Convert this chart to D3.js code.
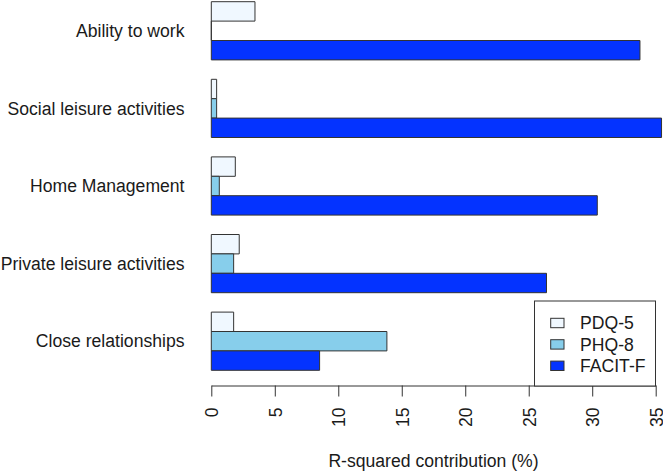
<!DOCTYPE html>
<html>
<head>
<meta charset="utf-8">
<script src="https://cdn.jsdelivr.net/npm/d3@7"></script>
<style>
  html, body { margin: 0; padding: 0; background: #fff; }
  svg { display: block; font-family: "Liberation Sans", Arial, sans-serif; }
</style>
</head>
<body>
<svg id="chart" width="663" height="472"></svg>
<script>
const categories = ["Ability to work", "Social leisure activities", "Home Management", "Private leisure activities", "Close relationships"];
const seriesNames = ["PDQ-5", "PHQ-8", "FACIT-F"];
const pdq5 = [3.44, 0.42, 1.89, 2.2, 1.76];
const phq8 = [0, 0.42, 0.63, 1.76, 13.83];
const facitF = [33.76, 35.46, 30.4, 26.4, 8.53];
const seriesColors = ["#f0f8ff", "#87ceeb", "#0433ff"];
const xTicks = [0, 5, 10, 15, 20, 25, 30, 35];
const xTitle = "R-squared contribution (%)";

const seriesValues = [pdq5, phq8, facitF];
const fontSize = 17.6;

const svg = d3.select("#chart");

const x = d3.scaleLinear().domain([0, 35]).range([211.3, 655.7]);
const yGroup = d3.scaleBand().domain(categories).range([1.7, 370.3]).paddingInner(0.25).paddingOuter(0);
const ySeries = d3.scaleBand().domain(seriesNames).range([0, yGroup.bandwidth()]);

const rows = [];
categories.forEach((c, i) => {
  seriesNames.forEach((s, j) => {
    rows.push({ cat: c, ser: s, value: seriesValues[j][i], color: seriesColors[j] });
  });
});

// bars as paths so zero-width bars still show their outline
svg.append("g").selectAll("path").data(rows).join("path")
  .attr("d", d => {
    const x0 = x(0), x1 = x(d.value);
    const y0 = yGroup(d.cat) + ySeries(d.ser);
    const h = ySeries.bandwidth();
    return `M${x0},${y0}H${x1}V${y0 + h}H${x0}Z`;
  })
  .attr("fill", d => d.color)
  .attr("stroke", "#333")
  .attr("stroke-width", 1);

// category labels
svg.append("g").selectAll("text").data(categories).join("text")
  .attr("x", 184.5)
  .attr("y", d => yGroup(d) + yGroup.bandwidth() / 2)
  .attr("dy", "0.35em")
  .attr("text-anchor", "end")
  .attr("font-size", fontSize)
  .attr("fill", "#1a1a1a")
  .text(d => d);

// x axis
const axisY = 385.5;
const axis = d3.axisBottom(x).tickValues(xTicks).tickSize(11).tickSizeOuter(0).tickFormat(d3.format("d"));
const gAxis = svg.append("g").attr("transform", `translate(0,${axisY})`).call(axis);
gAxis.select(".domain").attr("stroke", "#333");
gAxis.selectAll(".tick line").attr("stroke", "#333");
gAxis.selectAll(".tick text")
  .attr("font-size", fontSize)
  .attr("font-family", "'Liberation Sans', Arial, sans-serif")
  .attr("fill", "#1a1a1a")
  .attr("transform", "rotate(-90)")
  .attr("x", -22)
  .attr("y", 0)
  .attr("dy", "0.36em")
  .attr("text-anchor", "end");

// axis title
svg.append("text")
  .attr("x", (x(0) + x(35)) / 2)
  .attr("y", 466.7)
  .attr("text-anchor", "middle")
  .attr("font-size", fontSize)
  .attr("fill", "#1a1a1a")
  .text(xTitle);

// legend
const lg = svg.append("g");
lg.append("rect")
  .attr("x", 534.5).attr("y", 301)
  .attr("width", 121).attr("height", 85)
  .attr("fill", "#fff").attr("stroke", "#333").attr("stroke-width", 1);
const legY = d3.scalePoint().domain(seriesNames).range([323, 365.8]);
const items = lg.selectAll("g.item").data(seriesNames.map((s, i) => ({ s, c: seriesColors[i] }))).join("g");
items.append("rect")
  .attr("x", 550.7)
  .attr("y", d => legY(d.s) - 4.7)
  .attr("width", 13.3).attr("height", 9.4)
  .attr("fill", d => d.c).attr("stroke", "#333").attr("stroke-width", 1);
items.append("text")
  .attr("x", 580)
  .attr("y", d => legY(d.s))
  .attr("dy", "0.36em")
  .attr("font-size", fontSize)
  .attr("fill", "#1a1a1a")
  .text(d => d.s);
</script>
</body>
</html>
